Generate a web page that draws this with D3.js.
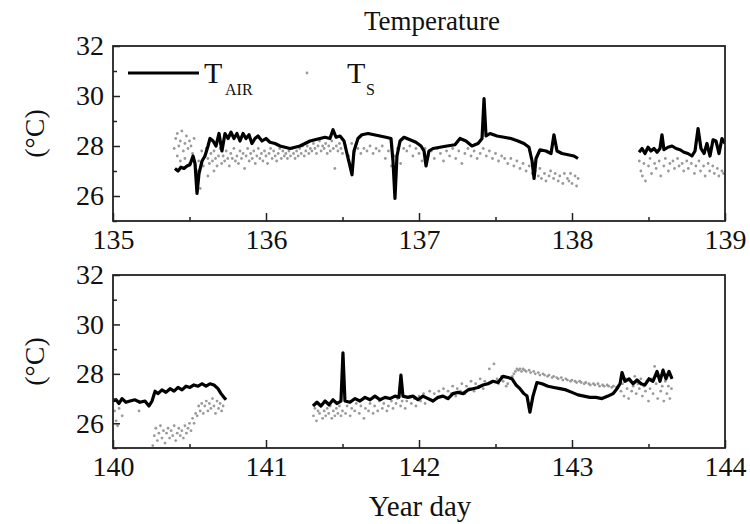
<!DOCTYPE html>
<html>
<head>
<meta charset="utf-8">
<script src="https://cdn.jsdelivr.net/npm/d3@7"></script>
<style>
  body { margin: 0; background: #fff; }
  svg text { font-family: "Liberation Serif", "Times New Roman", serif; fill: #111; }
</style>
</head>
<body>
<div id="chart"></div>
<script>
// ── Data: [year day, °C] ──
const airTop1 = [[135.405,27.1],[135.425,27.0],[135.444,27.15],[135.464,27.1],[135.484,27.2],[135.503,27.25],[135.523,27.6],[135.536,27.3],[135.549,26.1],[135.562,26.9],[135.582,27.4],[135.601,27.6],[135.621,28.0],[135.634,28.3],[135.654,28.2],[135.673,28.0],[135.693,28.5],[135.712,27.8],[135.732,28.5],[135.752,28.3],[135.771,28.55],[135.791,28.3],[135.810,28.5],[135.830,28.2],[135.850,28.5],[135.869,28.3],[135.889,28.45],[135.908,28.1],[135.928,28.3],[135.948,28.4],[135.974,28.2],[136.000,28.3],[136.026,28.15],[136.059,28.1],[136.092,28.0],[136.124,27.95],[136.157,27.9],[136.190,27.95],[136.222,28.0],[136.255,28.1],[136.288,28.2],[136.320,28.25],[136.353,28.3],[136.386,28.35],[136.418,28.3],[136.438,28.65],[136.458,28.35],[136.484,28.4],[136.510,28.2],[136.529,27.7],[136.549,27.2],[136.562,26.85],[136.575,27.8],[136.601,28.3],[136.627,28.45],[136.667,28.5],[136.706,28.45],[136.745,28.4],[136.784,28.35],[136.817,28.3],[136.830,27.4],[136.843,25.9],[136.856,27.6],[136.876,28.2],[136.902,28.35],[136.941,28.25],[136.980,28.15],[137.013,28.0],[137.033,27.8],[137.046,27.2],[137.065,27.8],[137.092,27.9],[137.137,27.95],[137.183,28.0],[137.235,28.05],[137.268,28.3],[137.307,28.2],[137.346,28.0],[137.386,28.1],[137.412,28.3],[137.425,29.9],[137.438,28.4],[137.464,28.5],[137.510,28.4],[137.556,28.35],[137.601,28.3],[137.647,28.2],[137.686,28.1],[137.719,27.95],[137.739,27.4],[137.752,26.7],[137.765,27.5],[137.791,27.85],[137.830,27.8],[137.863,27.7],[137.882,28.45],[137.902,27.8],[137.935,27.7],[137.974,27.65],[138.013,27.6],[138.039,27.5]];
const airTop2 = [[138.438,27.75],[138.458,27.9],[138.477,27.7],[138.497,27.95],[138.516,27.8],[138.536,27.9],[138.556,27.75],[138.575,27.9],[138.588,28.45],[138.601,27.85],[138.627,27.95],[138.654,28.0],[138.680,27.9],[138.706,27.85],[138.732,27.75],[138.758,27.7],[138.784,27.6],[138.804,27.8],[138.824,28.7],[138.843,27.9],[138.863,27.7],[138.882,28.1],[138.902,27.6],[138.922,28.25],[138.941,28.2],[138.961,27.7],[138.980,28.3],[139.000,28.1]];

const sstTop = [[135.40,27.9],[135.41,28.3],[135.42,27.6],[135.42,28.5],[135.43,28.0],[135.44,27.4],[135.44,28.2],[135.45,28.6],[135.46,27.8],[135.47,28.1],[135.47,27.5],[135.48,28.4],[135.49,27.9],[135.50,28.2],[135.50,27.3],[135.51,28.0],[135.52,27.7],[135.53,28.3],[135.54,27.2],[135.55,27.0],
[135.56,26.7],[135.56,27.4],[135.57,26.3],[135.58,27.8],[135.59,27.2],[135.60,27.6],[135.61,27.9],[135.62,27.5],[135.62,26.8],[135.63,27.3],[135.64,27.7],[135.65,27.4],[135.66,27.0],[135.66,27.8],[135.67,27.5],[135.68,27.2],[135.69,27.6],[135.70,27.9],[135.71,27.3],[135.72,27.6],[135.73,27.4],[135.74,27.8],[135.75,27.5],
[135.76,27.2],[135.77,27.7],[135.78,27.5],[135.79,27.9],[135.80,27.4],[135.81,27.6],[135.82,27.3],[135.83,27.8],[135.84,27.5],[135.85,27.7],[135.86,27.1],[135.87,27.6],[135.88,27.9],[135.89,27.4],[135.90,27.7],[135.91,27.5],[135.92,27.8],[135.93,27.3],[135.94,27.6],[135.95,27.9],[135.96,27.5],[135.97,27.7],[135.98,27.4],[135.99,27.8],[136.00,27.6],[136.01,27.3],[136.02,27.7],[136.03,27.9],[136.04,27.5],[136.05,27.8],[136.06,27.6],[136.07,27.4],[136.08,27.7],[136.09,27.9],[136.10,27.5],[136.11,27.8],[136.12,27.6],[136.13,27.7],[136.14,27.5],[136.15,27.8],[136.16,27.6],[136.17,27.9],[136.18,27.7],[136.19,27.5],[136.20,27.8],[136.21,27.6],[136.22,27.9],[136.23,27.7],[136.24,28.0],[136.25,27.6],[136.26,27.8],[136.27,28.0],[136.28,27.7],[136.29,27.9],
[136.30,27.8],[136.31,28.1],[136.32,27.9],[136.33,27.7],[136.34,28.0],[136.35,28.2],[136.36,27.8],[136.37,28.0],[136.38,27.9],[136.39,28.1],[136.40,27.7],[136.41,28.0],[136.42,27.8],[136.43,28.2],[136.44,27.9],[136.45,27.1],[136.46,28.0],[136.47,27.8],[136.48,28.1],[136.49,27.9],[136.50,27.7],
[136.52,28.0],[136.54,27.6],[136.56,28.1],[136.58,27.8],[136.60,27.9],[136.62,27.7],[136.64,27.9],[136.66,27.8],[136.68,28.0],[136.70,27.7],[136.72,27.9],[136.74,27.8],[136.76,28.0],[136.78,27.5],[136.80,27.8],[136.82,27.2],[136.84,27.6],[136.86,27.9],[136.88,27.3],[136.90,27.9],[136.92,27.8],[136.94,28.0],[136.96,27.6],[136.98,27.9],
[137.00,27.7],[137.02,27.4],[137.04,27.9],[137.06,27.6],[137.08,27.8],[137.10,27.5],[137.12,27.9],[137.14,27.7],[137.16,27.4],[137.18,27.8],[137.20,27.6],[137.22,27.9],[137.24,27.5],[137.26,27.8],[137.28,27.3],[137.30,27.7],[137.32,27.9],[137.34,27.6],[137.36,27.8],[137.38,27.5],[137.40,27.7],[137.42,27.9],[137.44,27.6],[137.46,27.8],[137.48,27.5],
[137.50,27.7],[137.52,27.4],[137.54,27.6],[137.56,27.5],[137.58,27.3],[137.60,27.5],[137.62,27.2],[137.64,27.4],[137.66,27.1],[137.68,27.3],[137.70,27.0],[137.72,27.2],[137.74,26.9],
[137.76,27.0],[137.78,26.8],[137.79,27.1],[137.80,26.7],[137.82,26.9],[137.83,26.6],[137.85,26.8],[137.86,27.0],[137.88,26.7],[137.89,26.9],[137.91,26.6],[137.92,26.8],[137.94,26.5],[137.95,26.9],[137.97,26.7],[137.98,26.6],[137.99,26.9],[138.00,26.5],[138.02,26.8],[138.03,26.4],[138.04,26.7],
[138.44,27.4],[138.45,27.0],[138.46,26.8],[138.47,27.3],[138.48,26.6],[138.50,27.2],[138.51,27.5],[138.52,26.9],[138.54,27.3],[138.55,27.1],[138.57,27.4],[138.58,26.8],[138.60,27.2],[138.61,27.5],[138.63,27.0],[138.64,27.3],[138.66,27.4],[138.67,27.1],[138.69,27.5],[138.70,27.2],[138.72,27.3],[138.73,27.0],[138.75,27.4],[138.76,27.1],[138.78,27.3],[138.80,26.9],[138.81,27.2],[138.83,27.4],[138.84,27.0],[138.86,27.2],[138.87,26.8],[138.89,27.3],[138.90,27.0],[138.92,27.2],[138.93,26.9],[138.95,27.1],[138.96,26.8],[138.98,27.0],[138.99,26.9]];

const airBot1 = [[140.000,26.9],[140.020,26.95],[140.039,26.8],[140.059,27.0],[140.085,26.85],[140.111,26.9],[140.144,26.95],[140.176,26.85],[140.209,26.9],[140.235,26.7],[140.255,26.9],[140.275,27.3],[140.294,27.2],[140.320,27.35],[140.346,27.25],[140.373,27.4],[140.399,27.3],[140.425,27.45],[140.451,27.35],[140.477,27.5],[140.503,27.45],[140.529,27.55],[140.556,27.5],[140.582,27.6],[140.608,27.5],[140.634,27.6],[140.660,27.55],[140.686,27.4],[140.706,27.2],[140.725,27.05],[140.739,26.95]];
const airBot2 = [[141.307,26.7],[141.333,26.85],[141.359,26.7],[141.386,26.9],[141.412,26.75],[141.438,26.95],[141.464,26.8],[141.490,26.9],[141.503,28.85],[141.516,26.9],[141.549,26.85],[141.582,27.0],[141.614,26.9],[141.647,27.05],[141.680,26.95],[141.712,27.1],[141.745,26.95],[141.778,27.05],[141.810,27.0],[141.843,27.1],[141.869,27.05],[141.882,27.95],[141.895,27.1],[141.928,27.05],[141.961,27.1],[141.993,26.95],[142.026,27.1],[142.059,27.0],[142.092,26.9],[142.124,27.05],[142.157,27.1],[142.190,27.0],[142.222,27.2],[142.255,27.25],[142.288,27.2],[142.320,27.35],[142.353,27.4],[142.386,27.45],[142.418,27.55],[142.451,27.6],[142.484,27.7],[142.516,27.65],[142.549,27.9],[142.582,27.85],[142.608,27.8],[142.634,27.55],[142.660,27.4],[142.686,27.2],[142.706,27.1],[142.725,26.45],[142.745,27.1],[142.771,27.65],[142.804,27.6],[142.843,27.5],[142.882,27.45],[142.922,27.4],[142.961,27.35],[143.000,27.25],[143.039,27.15],[143.078,27.1],[143.118,27.05],[143.157,27.05],[143.196,27.0],[143.235,27.1],[143.268,27.2],[143.294,27.4],[143.314,27.6],[143.327,28.05],[143.346,27.7],[143.373,27.8],[143.399,27.6],[143.425,27.75],[143.451,27.6],[143.477,27.55],[143.503,27.8],[143.529,27.7],[143.556,28.1],[143.575,27.7],[143.595,28.15],[143.614,27.8],[143.634,28.1],[143.654,27.8]];

const sstBot = [[140.01,26.5],[140.02,26.1],[140.03,25.9],[140.04,26.6],[140.06,26.3],[140.17,26.5],[140.26,25.1],
[140.27,25.5],[140.28,25.8],[140.29,25.3],[140.30,25.6],[140.31,25.9],[140.32,25.4],[140.33,25.7],[140.34,25.2],[140.35,25.6],[140.36,25.8],[140.37,25.4],[140.38,25.7],[140.39,25.5],[140.40,25.9],[140.41,25.3],[140.42,25.6],[140.43,25.8],[140.44,25.5],[140.45,25.7],[140.46,25.4],[140.47,25.9],[140.48,25.6],[140.49,25.8],[140.50,26.0],[140.51,25.7],[140.52,26.2],[140.53,26.0],[140.54,26.4],[140.55,26.3],[140.56,26.7],[140.57,26.5],[140.58,26.8],[140.59,26.4],[140.60,26.7],[140.61,26.9],[140.62,26.5],[140.63,26.8],[140.64,26.6],[140.65,27.0],[140.66,26.7],[140.67,26.4],[140.68,26.9],[140.69,26.6],[140.70,26.8],[140.71,26.5],[140.72,26.7],
[141.31,26.3],[141.32,26.6],[141.33,26.1],[141.34,26.5],[141.35,26.4],[141.36,26.7],[141.37,26.2],[141.38,26.5],[141.39,26.3],[141.40,26.6],[141.41,26.4],[141.42,26.7],[141.43,26.2],[141.44,26.5],[141.45,26.3],[141.46,26.6],[141.47,26.4],[141.48,26.7],[141.49,26.3],[141.50,26.5],[141.52,26.4],[141.53,26.7],[141.55,26.3],[141.56,26.6],[141.58,26.5],[141.59,26.8],[141.61,26.4],[141.62,26.7],[141.64,26.2],[141.65,26.6],[141.67,26.5],[141.68,26.8],[141.70,26.4],[141.71,26.7],[141.73,26.5],[141.74,26.9],[141.76,26.6],[141.77,26.8],[141.79,26.5],[141.80,26.7],[141.82,26.9],[141.83,26.6],[141.85,26.8],[141.86,27.0],[141.88,26.7],[141.89,26.9],[141.91,26.6],[141.92,26.9],[141.94,27.1],[141.95,26.8],[141.97,27.0],[141.98,26.7],[142.00,27.1],[142.01,26.9],[142.03,27.2],[142.04,26.8],[142.06,27.0],[142.07,27.3],[142.09,26.9],[142.10,27.2],[142.12,27.0],[142.13,27.3],[142.15,27.1],[142.16,27.4],[142.18,27.0],[142.19,27.3],[142.21,27.2],[142.22,27.5],[142.24,27.1],[142.25,27.4],[142.27,27.3],[142.28,27.6],[142.30,27.2],[142.31,27.5],[142.33,27.4],[142.34,27.7],[142.36,27.3],[142.37,27.6],[142.39,27.5],[142.40,27.8],[142.42,27.4],[142.43,27.7],[142.45,27.6],[142.46,28.2],[142.48,27.7],[142.49,28.4],[142.51,27.8],[142.52,27.6],[142.54,27.9],[142.55,27.7],[142.57,27.5],[142.58,27.6],
[142.60,27.8],[142.61,27.9],[142.62,28.0],[142.63,28.1],[142.64,28.2],[142.65,28.15],[142.66,28.2],[142.67,28.1],[142.68,28.2],[142.69,28.15],[142.70,28.1],[142.72,28.15],[142.73,28.05],[142.75,28.1],[142.76,28.0],[142.78,28.05],[142.79,27.95],[142.81,28.0],[142.82,27.95],[142.84,27.9],[142.85,27.95],[142.87,27.85],[142.88,27.9],[142.90,27.85],[142.91,27.8],[142.93,27.85],[142.94,27.75],[142.96,27.8],[142.97,27.75],[142.99,27.7],[143.00,27.75],[143.02,27.7],[143.03,27.65],[143.05,27.7],[143.06,27.65],[143.08,27.6],[143.09,27.65],[143.11,27.6],[143.12,27.55],[143.14,27.6],[143.15,27.55],[143.17,27.6],[143.18,27.5],[143.20,27.55],[143.21,27.5],[143.23,27.55],[143.24,27.5],[143.26,27.45],[143.27,27.5],[143.29,27.45],[143.30,27.5],
[143.32,27.3],[143.33,27.6],[143.34,27.1],[143.35,27.8],[143.36,27.4],[143.37,27.0],[143.38,27.7],[143.39,27.3],[143.40,27.5],[143.41,27.9],[143.42,27.2],[143.43,27.6],[143.44,27.4],[143.45,27.8],[143.46,27.1],[143.47,27.5],[143.48,27.3],[143.49,27.7],[143.50,26.9],[143.51,27.4],[143.52,27.8],[143.53,27.2],[143.54,28.3],[143.55,27.6],[143.56,27.0],[143.57,27.9],[143.58,27.3],[143.59,27.5],[143.60,26.9],[143.61,27.7],[143.62,27.2],[143.63,27.5],[143.64,27.0],[143.65,27.4]];

const yMajor = [26, 28, 30, 32];
const yMinor = [25, 27, 29, 31];

const panels = [
  { x0: 135, x1: 139, top: 46,  bottom: 221, air: [airTop1, airTop2], sst: sstTop, legend: true },
  { x0: 140, x1: 144, top: 275, bottom: 448, air: [airBot1, airBot2], sst: sstBot, legend: false }
];

// ── Layout ──
const W = 750, H = 524;
const left = 113, right = 725;
const font = '"Liberation Serif", "Times New Roman", serif';

const svg = d3.select("#chart").append("svg")
  .attr("width", W).attr("height", H);

svg.append("text")
  .attr("x", 432).attr("y", 30)
  .attr("text-anchor", "middle")
  .attr("font-size", 27)
  .text("Temperature");

svg.append("text")
  .attr("x", 420).attr("y", 516)
  .attr("text-anchor", "middle")
  .attr("font-size", 29)
  .text("Year day");

panels.forEach(p => {
  const x = d3.scaleLinear().domain([p.x0, p.x1]).range([left, right]);
  const y = d3.scaleLinear().domain([25, 32]).range([p.bottom, p.top]);
  const g = svg.append("g");

  // clip so spikes stay inside the frame
  const clipId = "clip" + p.x0;
  svg.append("clipPath").attr("id", clipId)
    .append("rect").attr("x", left).attr("y", p.top)
    .attr("width", right - left).attr("height", p.bottom - p.top);

  const plot = g.append("g").attr("clip-path", `url(#${clipId})`);

  plot.selectAll("circle.sst").data(p.sst).enter()
    .append("circle")
    .attr("class", "sst")
    .attr("cx", d => x(d[0]))
    .attr("cy", d => y(d[1]))
    .attr("r", 1.4)
    .attr("fill", "#9a9a9a");

  const line = d3.line().x(d => x(d[0])).y(d => y(d[1]));
  p.air.forEach(seg => {
    plot.append("path")
      .attr("d", line(seg))
      .attr("fill", "none")
      .attr("stroke", "#000")
      .attr("stroke-width", 3.2)
      .attr("stroke-linejoin", "round");
  });

  // x axis (major + minor ticks, pointing inward)
  const xMajor = d3.range(p.x0, p.x1 + 1);
  const xMinor = xMajor.slice(0, -1).map(v => v + 0.5);
  const xAx = g.append("g").attr("transform", `translate(0,${p.bottom})`)
    .call(d3.axisBottom(x).tickValues(xMajor).tickSize(-8).tickPadding(8).tickFormat(d3.format("d")));
  g.append("g").attr("transform", `translate(0,${p.bottom})`)
    .call(d3.axisBottom(x).tickValues(xMinor).tickSize(-4).tickFormat(""))
    .call(a => a.select(".domain").remove());

  const yAx = g.append("g").attr("transform", `translate(${left},0)`)
    .call(d3.axisLeft(y).tickValues(yMajor).tickSize(-7).tickPadding(9).tickFormat(d3.format("d")));
  g.append("g").attr("transform", `translate(${left},0)`)
    .call(d3.axisLeft(y).tickValues(yMinor).tickSize(-4).tickFormat(""))
    .call(a => a.select(".domain").remove());

  [xAx, yAx].forEach(a => {
    a.attr("font-family", null);
    a.select(".domain").remove();
    a.selectAll("text").attr("font-size", 28).style("font-family", font).attr("fill", "#111");
  });
  g.selectAll(".tick line").attr("stroke", "#222").attr("stroke-width", 1.5);

  // frame
  g.append("rect")
    .attr("x", left).attr("y", p.top)
    .attr("width", right - left).attr("height", p.bottom - p.top)
    .attr("fill", "none").attr("stroke", "#222").attr("stroke-width", 1.8);

  // y label
  svg.append("text")
    .attr("transform", `translate(44,${(p.top + p.bottom) / 2}) rotate(-90)`)
    .attr("text-anchor", "middle")
    .attr("font-size", 28)
    .text("(°C)");

  if (p.legend) {
    g.append("line")
      .attr("x1", 128).attr("x2", 199).attr("y1", 73).attr("y2", 73)
      .attr("stroke", "#000").attr("stroke-width", 3.2);
    g.append("text").attr("x", 204).attr("y", 83).attr("font-size", 30).text("T");
    g.append("text").attr("x", 225).attr("y", 95).attr("font-size", 16).text("AIR");
    g.append("circle").attr("cx", 307).attr("cy", 73).attr("r", 1.4).attr("fill", "#9a9a9a");
    g.append("text").attr("x", 347).attr("y", 83).attr("font-size", 30).text("T");
    g.append("text").attr("x", 366).attr("y", 95).attr("font-size", 16).text("S");
  }
});
</script>
</body>
</html>
